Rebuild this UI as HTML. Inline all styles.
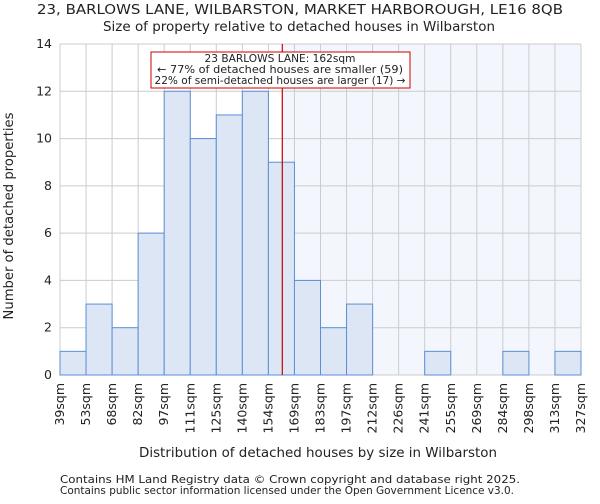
<!DOCTYPE html>
<html><head><meta charset="utf-8"><style>
body{margin:0;background:#fff;font-family:"DejaVu Sans","Liberation Sans",sans-serif;}
svg text{font-family:"DejaVu Sans","Liberation Sans",sans-serif;fill:#222;}
</style></head><body>
<svg id="chart" width="600" height="500" xmlns="http://www.w3.org/2000/svg">
<text x="300" y="14" font-size="13" text-anchor="middle" textLength="526" lengthAdjust="spacingAndGlyphs">23, BARLOWS LANE, WILBARSTON, MARKET HARBOROUGH, LE16 8QB</text>
<text x="299" y="31" font-size="13" text-anchor="middle" textLength="392" lengthAdjust="spacingAndGlyphs">Size of property relative to detached houses in Wilbarston</text>
<g id="plot"></g>
<text x="318" y="457" font-size="13" text-anchor="middle" textLength="358" lengthAdjust="spacingAndGlyphs">Distribution of detached houses by size in Wilbarston</text>
<text transform="translate(13,216) rotate(-90)" font-size="13" text-anchor="middle" textLength="207" lengthAdjust="spacingAndGlyphs">Number of detached properties</text>
<text x="60" y="483" font-size="11" textLength="460" lengthAdjust="spacingAndGlyphs">Contains HM Land Registry data © Crown copyright and database right 2025.</text>
<text x="60" y="494" font-size="11" textLength="454" lengthAdjust="spacingAndGlyphs">Contains public sector information licensed under the Open Government Licence v3.0.</text>
</svg>
<script>
const binLabels=["39sqm","53sqm","68sqm","82sqm","97sqm","111sqm","125sqm","140sqm","154sqm","169sqm","183sqm","197sqm","212sqm","226sqm","241sqm","255sqm","269sqm","284sqm","298sqm","313sqm","327sqm"];
const binEdges=[39,53,68,82,97,111,125,140,154,169,183,197,212,226,241,255,269,284,298,313,327];
const counts=[1,3,2,6,12,10,11,12,9,4,2,3,0,0,1,0,0,1,0,1];
const yTicks=[0,2,4,6,8,10,12,14];
const propertySize=162;
const NS="http://www.w3.org/2000/svg";
const L=60,R=581,T=44,B=375,yMax=14;
const n=counts.length,bw=(R-L)/n;
const xi=i=>L+i*bw;
const xv=v=>{for(let i=0;i<binEdges.length-1;i++){if(v<=binEdges[i+1])return xi(i)+(v-binEdges[i])/(binEdges[i+1]-binEdges[i])*bw;}return R;};
const y=v=>B-(v/yMax)*(B-T);
const g=document.getElementById('plot');
function mk(t,a){const e=document.createElementNS(NS,t);for(const k in a)e.setAttribute(k,a[k]);g.appendChild(e);return e;}
const px=xv(propertySize);
let e=mk('rect',{x:px,y:T,width:R-px,height:B-T,fill:'#f3f6fd'});


yTicks.forEach(t=>{
 let l=mk('line',{x1:L,x2:R,y1:y(t),y2:y(t),stroke:'#cccccc'});
 
 
 let tx=mk('text',{x:L-8,y:y(t)+4,'font-size':12.5,'text-anchor':'end'});tx.textContent=t;
 
 
});
binLabels.forEach((lb,i)=>{
 let l=mk('line',{x1:xi(i),x2:xi(i),y1:T,y2:B,stroke:'#cccccc'});
 
 
 let tx=mk('text',{transform:`translate(${xi(i)+4},${B+8}) rotate(-90)`,'font-size':12.5,'text-anchor':'end'});tx.textContent=lb;
 
 
});
counts.forEach((c,i)=>{
 if(c<=0)return;
 let r=mk('rect',{x:xi(i),y:y(c),width:bw,height:B-y(c),fill:'#dce6f4',stroke:'#5b8fd6','stroke-width':1});
 
 
});
let rl=mk('line',{x1:px,x2:px,y1:T,y2:B,stroke:'#cc0000','stroke-width':1.2});


let box=mk('rect',{x:151,y:52,width:259,height:36,fill:'#fff',stroke:'#cc0000','stroke-width':1});


const annLines=["23 BARLOWS LANE: 162sqm","← 77% of detached houses are smaller (59)","22% of semi-detached houses are larger (17) →"];
const annLens=[151,246,251];
annLines.forEach((s,k)=>{
 let t=mk('text',{x:280,y:62+k*11,'font-size':10.5,'text-anchor':'middle',textLength:annLens[k],lengthAdjust:'spacingAndGlyphs'});t.textContent=s;
 
 
});
</script>
</body></html>
